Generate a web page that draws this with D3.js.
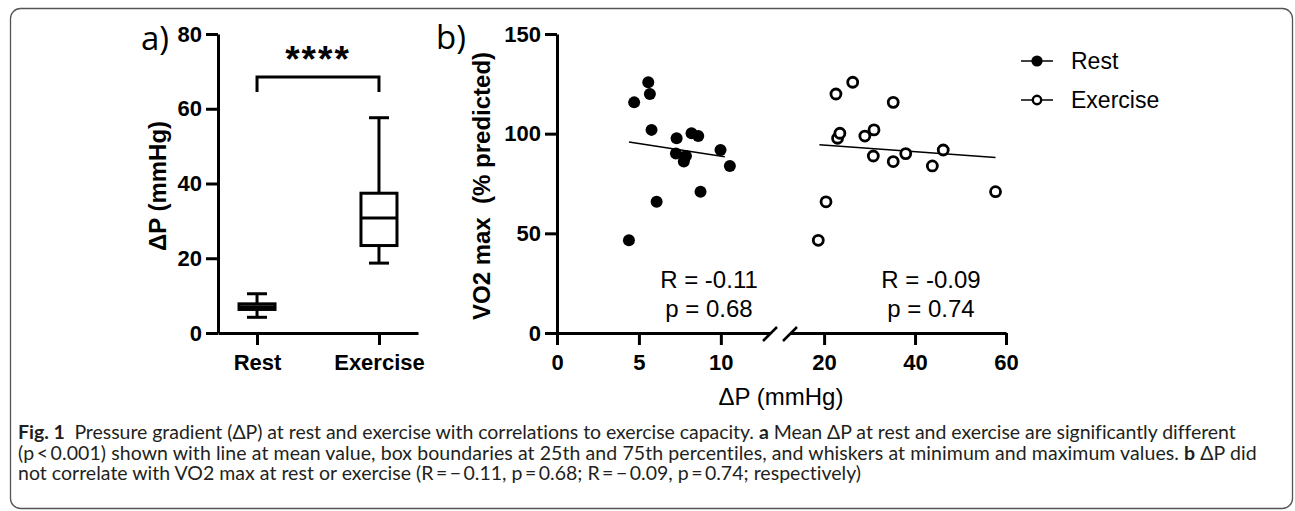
<!DOCTYPE html>
<html>
<head>
<meta charset="utf-8">
<script src="https://cdn.jsdelivr.net/npm/d3@7"></script>
<style>
  body { margin: 0; background: #fff; }
  svg { display: block; }
</style>
</head>
<body>
<div id="chart"></div>
<script>
const width = 1295, height = 511;

// ---- panel a: box plot data ----
const boxCats = ["Rest", "Exercise"];
const boxMin = [4.2, 18.7];
const boxQ1 = [6.3, 23.4];
const boxMed = [7.05, 30.8];
const boxQ3 = [7.8, 37.4];
const boxMax = [10.5, 57.6];
const yTicksA = [0, 20, 40, 60, 80];

// ---- panel b: scatter data ----
const restDP = [4.39, 4.71, 5.57, 5.67, 5.77, 6.08, 7.30, 7.26, 7.87, 7.74, 8.21, 8.62, 8.76, 9.98, 10.55];
const restVO2 = [46.5, 115.7, 125.8, 119.9, 101.9, 65.8, 97.7, 90.0, 88.8, 86.0, 100.2, 98.8, 70.9, 91.8, 83.8];
const exDP = [18.72, 20.42, 22.6, 26.29, 22.96, 23.47, 28.96, 30.97, 30.82, 35.2, 35.2, 37.95, 43.8, 46.2, 57.7];
const exVO2 = [46.5, 65.8, 119.9, 125.8, 97.7, 100.2, 98.8, 101.9, 88.8, 115.7, 86.0, 90.0, 83.8, 91.8, 70.9];
// fitted lines (end points)
const restFitX = [4.39, 10.24], restFitY = [95.8, 88.4];
const exFitX = [18.97, 57.7], exFitY = [94.5, 88.0];
const restStats = ["R = -0.11", "p = 0.68"];
const exStats = ["R = -0.09", "p = 0.74"];
const yTicksB = [0, 50, 100, 150];
const xTicksLeft = [0, 5, 10];
const xTicksRight = [20, 40, 60];
const legendLabels = ["Rest", "Exercise"];

const axisFont = "'Liberation Sans', Arial, sans-serif";

const svg = d3.select("#chart")
  .append("svg")
  .attr("width", width)
  .attr("height", height);

// outer frame
svg.append("rect")
  .attr("x", 10.5).attr("y", 8.5)
  .attr("width", 1282).attr("height", 500)
  .attr("rx", 10)
  .attr("fill", "none")
  .attr("stroke", "#555")
  .attr("stroke-width", 1.3);

// common axis styling
function styleAxis(g) {
  g.select(".domain").attr("stroke-width", 3);
  g.selectAll(".tick line").attr("stroke-width", 3);
  g.selectAll(".tick text")
    .attr("font-family", axisFont)
    .attr("font-weight", "bold")
    .attr("font-size", "22px")
    .attr("fill", "#000");
}

// ================= panel a =================
const yA = d3.scaleLinear().domain([0, 80]).range([333, 34]);
const xA = d3.scalePoint().domain(boxCats).range([218, 418]).padding(0.32);

svg.append("g")
  .attr("transform", `translate(218,0)`)
  .call(d3.axisLeft(yA).tickValues(yTicksA).tickSize(12).tickPadding(4).tickSizeOuter(0))
  .call(styleAxis);

svg.append("g")
  .attr("transform", `translate(0,333)`)
  .call(d3.axisBottom(xA).tickSize(12).tickPadding(9).tickSizeOuter(0))
  .call(styleAxis);

const boxW = 36, capW = 20;
const boxes = svg.append("g").attr("stroke", "#000").attr("stroke-width", 3);
boxCats.forEach((c, i) => {
  const cx = xA(c);
  // whiskers
  boxes.append("line").attr("x1", cx).attr("x2", cx).attr("y1", yA(boxMax[i])).attr("y2", yA(boxQ3[i]));
  boxes.append("line").attr("x1", cx).attr("x2", cx).attr("y1", yA(boxQ1[i])).attr("y2", yA(boxMin[i]));
  boxes.append("line").attr("x1", cx - capW / 2).attr("x2", cx + capW / 2).attr("y1", yA(boxMax[i])).attr("y2", yA(boxMax[i]));
  boxes.append("line").attr("x1", cx - capW / 2).attr("x2", cx + capW / 2).attr("y1", yA(boxMin[i])).attr("y2", yA(boxMin[i]));
  // box + median
  boxes.append("rect")
    .attr("x", cx - boxW / 2).attr("width", boxW)
    .attr("y", yA(boxQ3[i])).attr("height", yA(boxQ1[i]) - yA(boxQ3[i]))
    .attr("fill", "#fff");
  boxes.append("line").attr("x1", cx - boxW / 2).attr("x2", cx + boxW / 2).attr("y1", yA(boxMed[i])).attr("y2", yA(boxMed[i]));
});

// significance bracket
svg.append("path")
  .attr("d", `M${xA("Rest")},${yA(64.5)}V${yA(68.5)}H${xA("Exercise")}V${yA(64.5)}`)
  .attr("fill", "none").attr("stroke", "#000").attr("stroke-width", 3);
svg.append("text")
  .attr("x", (xA("Rest") + xA("Exercise")) / 2).attr("y", 72)
  .attr("text-anchor", "middle")
  .attr("font-family", axisFont).attr("font-weight", "bold").attr("font-size", "37px")
  .attr("letter-spacing", "2px")
  .text("****");

svg.append("text")
  .attr("transform", "translate(166,186) rotate(-90)")
  .attr("text-anchor", "middle")
  .attr("font-family", axisFont).attr("font-weight", "bold").attr("font-size", "24px")
  .text("ΔP (mmHg)");

svg.append("text")
  .attr("x", 141).attr("y", 50)
  .attr("font-family", "'Open Sans', sans-serif").attr("font-size", "33px")
  .text("a)");

// ================= panel b =================
const yB = d3.scaleLinear().domain([0, 150]).range([333, 34]);
const xL = d3.scaleLinear().domain([0, 13]).range([557, 770]);
const xR = d3.scaleLinear().domain([12.5, 60]).range([790, 1006]);

svg.append("g")
  .attr("transform", `translate(557,0)`)
  .call(d3.axisLeft(yB).tickValues(yTicksB).tickSize(12).tickPadding(4).tickSizeOuter(0))
  .call(styleAxis);

svg.append("g")
  .attr("transform", `translate(0,333)`)
  .call(d3.axisBottom(xL).tickValues(xTicksLeft).tickSize(12).tickPadding(9).tickSizeOuter(0))
  .call(styleAxis);

svg.append("g")
  .attr("transform", `translate(0,333)`)
  .call(d3.axisBottom(xR).tickValues(xTicksRight).tickSize(12).tickPadding(9).tickSizeOuter(0))
  .call(styleAxis);

// axis break marks
[xL.range()[1], xR.range()[0]].forEach(bx => {
  svg.append("line")
    .attr("x1", bx - 7).attr("y1", 341).attr("x2", bx + 7).attr("y2", 327)
    .attr("stroke", "#000").attr("stroke-width", 2.5);
});

// fit lines
svg.append("line")
  .attr("x1", xL(restFitX[0])).attr("y1", yB(restFitY[0]))
  .attr("x2", xL(restFitX[1])).attr("y2", yB(restFitY[1]))
  .attr("stroke", "#000").attr("stroke-width", 1.5);
svg.append("line")
  .attr("x1", xR(exFitX[0])).attr("y1", yB(exFitY[0]))
  .attr("x2", xR(exFitX[1])).attr("y2", yB(exFitY[1]))
  .attr("stroke", "#000").attr("stroke-width", 1.5);

// points
svg.append("g").selectAll("circle")
  .data(d3.zip(restDP, restVO2))
  .join("circle")
    .attr("cx", d => xL(d[0]))
    .attr("cy", d => yB(d[1]))
    .attr("r", 6)
    .attr("fill", "#000");

svg.append("g").selectAll("circle")
  .data(d3.zip(exDP, exVO2))
  .join("circle")
    .attr("cx", d => xR(d[0]))
    .attr("cy", d => yB(d[1]))
    .attr("r", 5)
    .attr("fill", "#fff")
    .attr("stroke", "#000")
    .attr("stroke-width", 2.8);

// R / p annotations
function statText(lines, cx) {
  const t = svg.append("text")
    .attr("text-anchor", "middle")
    .attr("font-family", axisFont).attr("font-size", "24px");
  lines.forEach((s, i) => {
    t.append("tspan").attr("x", cx).attr("y", 288 + i * 29).text(s);
  });
}
statText(restStats, 709);
statText(exStats, 931);

svg.append("text")
  .attr("transform", "translate(490,186) rotate(-90)")
  .attr("text-anchor", "middle")
  .attr("font-family", axisFont).attr("font-weight", "bold").attr("font-size", "24px")
  .attr("xml:space", "preserve")
  .text("VO2 max  (% predicted)");

svg.append("text")
  .attr("x", 781).attr("y", 405)
  .attr("text-anchor", "middle")
  .attr("font-family", axisFont).attr("font-size", "24px")
  .text("ΔP (mmHg)");

svg.append("text")
  .attr("x", 436).attr("y", 49)
  .attr("font-family", "'Open Sans', sans-serif").attr("font-size", "33px")
  .text("b)");

// legend
const legend = svg.append("g");
legendLabels.forEach((lab, i) => {
  const ly = 61 + i * 39;
  legend.append("line").attr("x1", 1021).attr("x2", 1053).attr("y1", ly).attr("y2", ly)
    .attr("stroke", "#000").attr("stroke-width", 1.5);
  legend.append("circle").attr("cx", 1037).attr("cy", ly)
    .attr("r", i === 0 ? 5.6 : 4.2)
    .attr("fill", i === 0 ? "#000" : "#fff")
    .attr("stroke", "#000").attr("stroke-width", i === 0 ? 0 : 2.4);
  legend.append("text").attr("x", 1071).attr("y", ly + 8)
    .attr("font-family", axisFont).attr("font-size", "23px")
    .text(lab);
});

// ================= caption =================
const capLines = [
  [["Fig. 1", true], ["\u2002Pressure gradient (ΔP) at rest and exercise with correlations to exercise capacity. ", false], ["a", true], [" Mean ΔP at rest and exercise are significantly different", false]],
  [["(p\u2009<\u20090.001) shown with line at mean value, box boundaries at 25th and 75th percentiles, and whiskers at minimum and maximum values. ", false], ["b", true], [" ΔP did", false]],
  [["not correlate with VO2 max at rest or exercise (R\u2009=\u2009\u2212\u20090.11, p\u2009=\u20090.68; R\u2009=\u2009\u2212\u20090.09, p\u2009=\u20090.74; respectively)", false]]
];
const capTargets = [1217, 1239, null];
const capNodes = capLines.map((parts, i) => {
  const t = svg.append("text")
    .attr("x", 18).attr("y", 439 + i * 20.5)
    .attr("font-family", "Lato, 'Noto Sans', sans-serif")
    .attr("font-size", "19.5px")
    .attr("fill", "#231f20")
    .attr("xml:space", "preserve");
  parts.forEach(p => t.append("tspan").attr("font-weight", p[1] ? "bold" : "normal").text(p[0]));
  return t;
});
// fit the first two lines to the measured widths, reuse the mean spacing for the last
let spacings = [];
capNodes.forEach((t, i) => {
  if (capTargets[i] == null) return;
  const n = t.text().length;
  const w = t.node().getComputedTextLength();
  const ls = (capTargets[i] - w) / n;
  spacings.push(ls);
  t.attr("letter-spacing", ls + "px");
});
capNodes[2].attr("letter-spacing", d3.mean(spacings) + "px");
</script>
</body>
</html>
